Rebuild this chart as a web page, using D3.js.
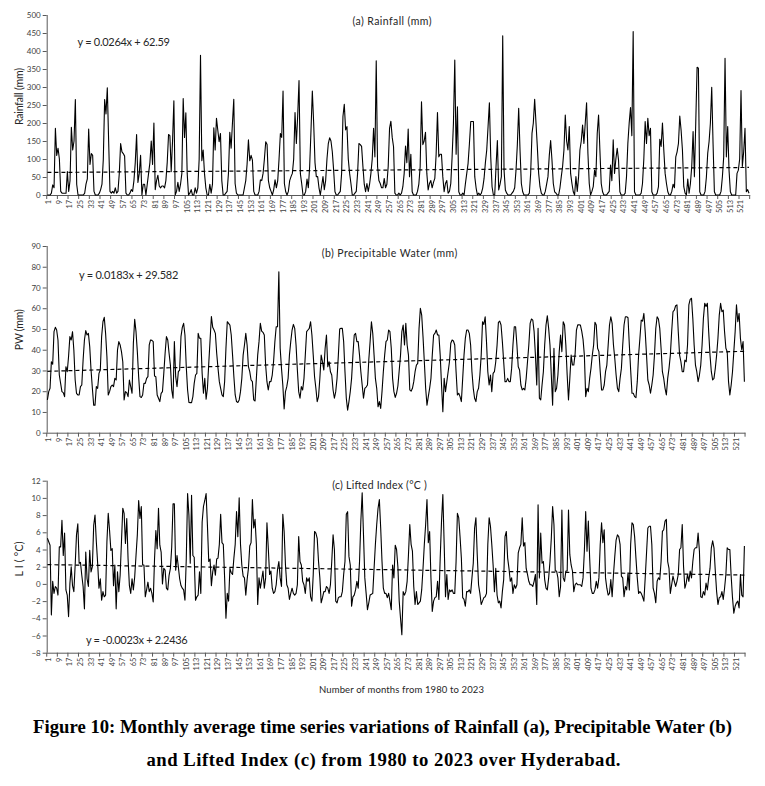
<!DOCTYPE html>
<html><head><meta charset="utf-8">
<script src="https://cdn.jsdelivr.net/npm/d3@7/dist/d3.min.js"></script>
<style>
body{margin:0;background:#fff}
svg{display:block}
.lab{font-family:Lato,'Open Sans',sans-serif;fill:#404040}
.cap{font-family:'Liberation Serif','Times New Roman',serif;font-weight:bold;fill:#000}
</style>
</head><body>
<svg id="chart" width="765" height="786"></svg>
<script>
// ---------- DATA (monthly, Jan 1980 .. Dec 2023, 528 months) ----------
const rainfall = [0,
0,0,5,28,20,185,110,130,100,10,5,5,
5,5,65,10,40,188,125,150,265,30,0,0,
0,0,0,5,30,45,183,85,115,110,10,0,
0,0,5,15,30,100,265,225,298,150,10,5,
10,5,20,5,10,60,143,120,115,108,5,0,
0,5,15,10,40,90,168,35,60,110,0,30,
30,0,30,60,90,150,85,200,15,40,55,25,
20,25,25,20,40,90,168,165,65,150,262,0,
10,35,10,30,60,268,160,228,60,0,5,15,
0,0,20,5,20,100,388,95,125,60,20,0,
0,30,5,30,187,125,213,180,148,171,40,0,
0,5,10,60,174,130,200,266,32,5,0,0,
0,0,0,20,40,86,153,95,110,97,10,0,
0,0,10,42,40,60,100,148,140,40,20,10,
0,15,42,20,40,100,171,160,289,32,9,0,
10,40,51,60,100,229,143,220,318,60,32,0,
0,10,44,20,80,180,289,200,90,51,51,20,
0,25,51,15,40,100,143,159,150,120,69,9,
0,0,5,10,60,218,252,181,190,100,60,32,
0,0,5,10,60,143,140,135,79,30,9,32,
10,30,60,100,185,106,373,79,40,32,20,20,
46,20,30,80,185,205,160,134,5,0,0,5,
0,5,23,60,136,90,183,51,113,9,0,0,
0,10,30,79,259,140,150,174,60,14,32,40,
20,35,46,113,229,106,113,113,51,9,32,40,
5,10,32,106,200,375,113,245,9,0,0,5,
0,32,60,88,143,204,204,204,51,20,0,5,
0,5,20,46,90,125,190,256,106,23,0,0,
80,151,14,30,51,442,69,14,5,0,0,0,
5,10,20,69,140,241,125,32,9,0,0,0,
0,5,60,171,200,266,200,134,60,23,5,0,
0,10,30,51,110,151,97,32,9,5,0,0,
20,51,80,125,222,150,125,190,60,32,9,0,
51,10,51,125,150,194,143,200,256,116,32,0,
10,23,69,51,171,222,125,32,9,0,0,0,
5,10,83,40,153,60,100,130,97,9,0,0,
0,5,51,143,200,243,165,454,9,0,0,0,
0,5,32,100,204,143,213,165,185,9,0,0,
0,5,23,155,135,200,125,60,32,9,0,0,
10,30,20,106,120,143,219,180,125,23,5,0,
44,5,32,80,176,51,200,355,352,9,0,0,
0,10,50,116,148,200,299,143,9,0,0,0,
0,10,50,106,380,106,190,69,9,0,0,0,
0,60,69,100,290,79,120,185,9,15,5];

const precipitableWater = [
15.8,19.8,21.4,34.2,33,48.7,50.8,49.5,44.7,27.8,23.8,19.8,
19.3,17.4,31.8,29.4,36.7,46.3,44.7,48.7,39.9,25.4,19,18.2,
18.2,22.2,23,35,44.7,49.2,47.1,47.9,41.5,30.2,21.4,13.3,
13.3,22.2,21.4,28.6,30.2,46.3,53.5,55.6,47.9,36.7,18.2,19.8,
22.2,23,22.2,26.2,25.4,39.9,43.9,42.3,39.1,34.2,15.8,19.8,
19.3,17.4,25.4,22.2,19,43.1,54.7,48.7,39.1,27,17.4,17,
18.2,23.8,23.8,26.2,27,42.3,44.7,44.5,43.9,27.3,27,18.2,16.6,
15,19,19.8,28.6,38.3,46.3,44.7,38.3,32.6,20.6,16.6,43.9,
27,22.2,29.4,30.2,46.3,50.8,52.7,47.1,31.8,20.6,14.6,14.5,
14.5,17.4,23.8,27.8,28.6,47.9,45.5,45.5,28.6,19,26.2,16.1,
21.4,33.4,44.7,56,50.8,49.5,47.9,38.3,31,24.6,21.4,18.2,
17.4,24.6,40.7,53.5,52.7,51.9,47.1,37.4,27,18.2,15,14.6,
15.8,19.8,26.2,37.4,42.3,47.9,42.3,31.8,29.4,25.4,24.6,15.8,
15.3,26.2,37.4,43.9,52.7,49,48.4,47.1,32.6,24.6,20.6,24.6,
24.6,27.8,34.2,43.9,51.1,51.1,77.6,40.7,31,23,11.4,19.8,
22.2,26.2,37.4,43.9,49.5,52.2,50.3,42.3,30.2,19.8,16.6,22.2,
20.6,26.2,37.4,48.7,49.5,50.3,53.5,47.1,37.4,27,21.4,15,
17.4,26.2,37.4,34.2,30.2,40.7,47.1,31.8,34.2,29.4,27.8,20.6,
16.6,19.8,26.2,37.4,50,50.3,50.3,43.9,29.4,16.6,10.9,15,
19.8,26.2,37.4,47.1,47.9,43.9,43.9,37.4,29.4,23,16.6,21.4,22,
23,35,43.9,53.5,47.9,37.4,26.2,21.4,12.5,15,11.7,19.8,
29.4,37.4,43.9,44.7,49.5,48.7,40.7,26.2,19.8,17,19,22.5,
30,37.4,48.7,51.9,42.3,52.7,42.3,37.4,20.6,20,21.4,24.6,
29.4,32.6,33.4,50.3,60,56.7,46.3,34.2,21.4,13.3,17.4,21.4,
26.2,37.4,47.1,47.9,49.5,47.1,47.1,37.4,23,10.1,26.2,19.8,
24.6,29.4,34.2,43.1,44.7,44.2,42.3,29.4,18.2,19,17.4,15,
26.2,37.4,45.5,49.5,49.5,47.9,42.3,29.4,21.4,16.6,15,19.8,
21.4,27.8,37.4,53.5,52.2,55.9,43.9,29.4,23,27.8,19.8,28.6,
29.4,34.2,42.3,53.2,53.8,51.9,43.9,34.2,24.6,24.6,26.2,24.6,
24.6,31,42.3,51.1,51.1,42.3,31.8,30.2,23,20.6,21.4,20.6,
26.2,34.2,42.3,52.7,54.8,54.3,48.7,37.4,23,50.3,16.6,15.8,
23,29.4,42.3,51.9,56.4,50.3,42.3,27.8,13.3,40.7,19.8,21.4,
27.8,39.1,47.1,39.1,53.5,51.9,42.3,27.8,15.8,26.2,37.4,32.6,
32.6,38,49.5,52,52,51.9,49,45,37.4,17.4,21.4,19.8,26.2,
31,37.4,42.3,53.2,51.9,40.7,39.1,29.4,20.6,20.6,23,29.4,
32.6,42.3,51.9,55.9,52.7,42.3,35.8,27.8,21.4,19.8,26.2,31,
42.3,51.9,55.9,55.9,55.4,42.3,30.2,19,19,17.4,16.9,24.6,
37.4,45.5,54.3,53.8,57.5,48.7,37.4,25.4,23,19,23,27.8,
37.4,50.3,55.9,54.8,50.3,40.7,29.4,26.2,21.4,18.2,26.2,31,
37.4,48.7,58.3,59.1,61.2,61.6,48.7,37.4,34.2,29.4,29.4,35,
34.2,42.3,61.6,64.3,64.8,55.1,42.3,32.6,29.4,24.6,27.8,32.6,
42.3,55.1,62.4,60.8,62.4,48.7,37.4,29.4,25.4,26.2,31,37.4,
45.5,56.7,62.4,58.3,59.1,48.7,40.7,39.1,24.6,18.2,23,29.4,
39.1,48.7,61.6,53.5,57.5,45.5,40,43.9,24.6];

const liftedIndex = [
5.3,4.9,4.5,-3.6,0.3,-1.1,-0.3,-0.5,-1.3,4.3,4.3,7.4,
3.3,5.9,-0.7,-1.3,-3.8,0,2,-0.2,-0.9,2.2,5.7,7,
2.4,2.5,1,-0.3,-2.9,3.7,0.6,-0.3,3.9,1.4,2,6.8,
8,4.9,2.4,-0.5,0.6,-1.9,-0.9,-1.5,-1.3,4.9,8.2,6.2,
3.9,4.1,-0.2,2.2,-2.9,1.4,-0.9,1,4.9,8.8,8.2,4.7,
7.6,2.9,-0.2,-1.1,0.6,-0.7,0.8,3.3,5.7,9.7,7.6,9,
2.2,2.2,-1.5,-0.7,0.2,-0.9,-0.5,-1.1,-2.1,2.9,6.2,4.1,8.8,
4.5,3.7,0,1.8,1.6,-0.5,-0.7,1,1.8,4.3,9.3,9.3,
1.6,3.3,2,0.6,-0.2,-0.5,-0.7,-1.9,2.9,10.5,8,2.4,
10.3,3.3,3.1,-1.9,-1.5,-1.3,1.4,-1.1,7.2,9,9.7,10.5,
6.8,2.6,2.9,-0.2,1.4,2.2,1,2.9,3,4.6,8.1,4.8,
4.6,0.7,-4,-1.1,-2,1.8,1.3,1.1,3,4.6,8.4,5.5,
10,4.6,2.2,0.9,0.7,-1.3,0.5,1.8,4.4,4.8,9.8,6.5,
7.5,4.6,-2.4,0.7,-0.5,0.5,1.5,-0.5,0.7,7.1,4.2,1.1,
1.5,-0.5,-1.1,-0.9,-0.1,1.7,2.6,0.7,-0.3,8.1,6.1,2.2,
-0.1,-0.5,-1.8,-1.1,-0.5,-1.1,-1.3,-1.1,-0.1,5.5,2.6,2.2,
0.3,-0.1,-1.1,0.7,0.3,0.7,-1.5,-2,1.1,6.1,5.9,5.3,
2.6,0.7,-2.2,-1.6,-0.9,-0.9,-0.3,-0.5,-1.1,-0.1,2.6,5.7,
4,-2,-2.2,-1.6,-1.5,-1.5,-0.9,1.1,2.6,8.1,8.4,3.2,
2.2,-2.6,-1.5,-1.3,-0.7,0.3,-0.5,2.6,7.3,10.6,5.7,0.7,
-1.1,-3,-2.2,-1.3,-1.2,-1.1,1.8,4.6,6.9,8.8,9.8,6.5,2.6,
-0.5,-1.1,-1.1,-1.6,-1.1,-2,-3,2.2,0.7,4.5,4,2,
-2,-4,-5.9,-0.9,-1.3,-0.9,0.3,3.4,6.9,4.6,3.8,-0.3,
-2.4,-0.9,-2.4,-2.2,-2,-0.7,1.8,4.6,6.9,9.8,4.8,6.1,
0.7,-3.2,-2,-1.6,-1.5,0.3,-1.8,3,7.3,10.4,4.6,-1.5,
1.1,-1.8,-0.7,-0.9,-0.7,-1.1,-1.1,2.6,8.2,7.7,5.5,3,
-1.6,-1.8,-2.6,-0.9,-0.9,-0.7,-1.1,0.7,2.4,6.5,7.7,3.4,
-0.1,-1.1,-2.4,-2,-1.6,-1.5,-1.1,4.6,7.7,6.7,4.6,2.2,
-0.9,1.8,-1.3,-2.2,-2,-2.8,-0.9,0.5,5.5,6.1,3,1.8,
0.3,0.7,-1.1,-0.1,-0.5,-0.1,3.6,4.2,4.6,7.7,4.4,4.8,
1.8,1.1,0.3,-0.1,-0.1,-0.3,0.3,1.1,-2.4,9.2,0.7,5.9,
2.4,2.6,0.5,-0.5,-0.7,0.7,2.6,5.3,9,6.9,1.5,1.5,
0.7,-1.5,-0.3,8.6,0.7,0.3,1.5,1.5,8.6,3.4,2.2,1.5,
-0.9,-0.1,0.1,-0.1,-0.1,-0.1,-0.3,0.7,3.8,8.4,3.8,7.3,3,
-0.5,-1.1,-1.1,-0.7,0.3,-0.5,0.7,4.6,7.1,4.8,6.3,0.7,
-0.5,-1.3,-1.1,0.5,-1.5,1.1,3.2,5.1,5.7,5.5,4.6,0.9,
0.7,-1.5,-0.3,-0.7,1.3,-0.7,4.6,7.1,6.9,5.5,3,0.7,
-1.1,-0.9,-1.1,-1.5,-2,0.7,3.6,6.5,6.7,6.7,4.6,-0.5,
-1.1,-2.2,0.3,0.7,0.5,2.6,6.1,6.3,7.3,7.5,2.6,1.8,
-1.1,-0.1,0.9,0.3,-0.3,0.3,1.1,4,4.2,6.9,2,-0.5,
0.1,1.1,0.3,1.5,0.7,2.6,4,4.2,4.2,5.9,3.8,-1.5,
-1.6,-0.9,-1.3,0.1,-0.7,0.7,1.8,4.2,5,4.2,1.5,-0.9,
-2.4,-1.6,-1.5,-0.9,-1.8,-0.5,1.1,4.2,4,4,0.9,-1.6,
-3.4,-2.6,-2.2,-2,-2.8,1.1,-1.3,-1.5,4.4];

// Linear trend lines shown on the chart (slope, intercept)
const trendSlopes = [0.0264, 0.0183, -0.0023];
const trendIntercepts = [62.59, 29.582, 2.2436];
const trendLabels = ["y = 0.0264x + 62.59", "y = 0.0183x + 29.582", "y = -0.0023x + 2.2436"];

const panelTitles = ["(a) Rainfall (mm)", "(b) Precipitable Water (mm)", "(c) Lifted Index (\u00B0C )"];
const yAxisTitles = ["Rainfall (mm)", "PW (mm)", "L I  ( \u00B0C)"];
const yTickValues = [d3.range(0, 501, 50), d3.range(0, 91, 10), d3.range(-8, 13, 2)];
const nMonths = 528;
const monthCategories = d3.range(1, nMonths + 1);
const xTickLabels = monthCategories.filter(m => (m - 1) % 8 === 0);
const xAxisTitle = "Number of months from 1980 to 2023";
const captionLines = [
  "Figure 10: Monthly average time series variations of Rainfall (a), Precipitable Water (b)",
  "and Lifted Index (c) from 1980 to 2023 over Hyderabad."
];

// ---------- LAYOUT ----------
const series = [rainfall, precipitableWater, liftedIndex];
const layout = [
  {yDom:[0,500], yRng:[195,15],     xRng:[47.4,749.0], axisEnd:750.2,
   tX:392, tY:25, tLen:79, eX:77.5, eY:45.5, eLen:92.5, ytY:96.5, ytLen:57},
  {yDom:[0,90],  yRng:[432.7,246],  xRng:[47.4,744.4], axisEnd:745.4,
   tX:389.5, tY:257, tLen:135.6, eX:79, eY:278.5, eLen:99.3, ytY:329.7, ytLen:41},
  {yDom:[-8,12], yRng:[652.7,480.7],xRng:[47.4,744.4], axisEnd:745.4,
   tX:379.5, tY:488.5, tLen:94.4, eX:86, eY:643.5, eLen:101.7, ytY:559, ytLen:35}
];
const axisX = 46.7;
const axisColor = "#595959";

const svg = d3.select("#chart");
svg.append("rect").attr("width",765).attr("height",786).attr("fill","#fff");

series.forEach((vals, p) => {
  const L = layout[p];
  const g = svg.append("g");
  const x = d3.scaleLinear().domain([1, nMonths]).range(L.xRng);
  const y = d3.scaleLinear().domain(L.yDom).range(L.yRng);

  // y axis
  const ya = g.append("g").attr("transform",`translate(${axisX},0)`)
    .call(d3.axisLeft(y).tickValues(yTickValues[p]).tickSize(4).tickSizeOuter(0).tickPadding(2));
  ya.select(".domain").attr("stroke",axisColor).attr("d",`M0.5,${L.yRng[1]}V${L.yRng[0]}`);
  ya.selectAll(".tick line").attr("stroke",axisColor);
  ya.selectAll(".tick text").attr("class","lab").style("font-size","8px")
    .attr("font-family",null).attr("fill",null);
  ya.attr("font-family",null).attr("font-size",null);

  // x axis line + tick marks between categories
  const xBottom = L.yRng[0];
  g.append("line").attr("x1",axisX).attr("x2",L.axisEnd).attr("y1",xBottom+0.5).attr("y2",xBottom+0.5)
    .attr("stroke",axisColor);
  const tickPos = d3.range(0.5, nMonths + 1, 8);
  g.selectAll(".xt").data(tickPos).join("line")
    .attr("x1",d=>Math.min(x(d),L.axisEnd)).attr("x2",d=>Math.min(x(d),L.axisEnd))
    .attr("y1",xBottom).attr("y2",xBottom+4).attr("stroke",axisColor);
  // rotated x labels
  g.selectAll(".xl").data(xTickLabels).join("text").attr("class","lab")
    .attr("transform",d=>`translate(${x(d)+1.2},${xBottom+5}) rotate(-90)`)
    .attr("text-anchor","end").attr("dy","0.35em").style("font-size","7.4px")
    .text(d=>d);

  // data line
  const line = d3.line().x((d,i)=>x(monthCategories[i])).y(d=>y(d));
  g.append("path").datum(vals).attr("d",line).attr("fill","none")
    .attr("stroke","#000").attr("stroke-width",1.1).attr("stroke-linejoin","round");

  // trend line
  const tl = d3.line().x(m=>x(m)).y(m=>y(trendSlopes[p]*m + trendIntercepts[p]));
  g.append("path").datum([1, nMonths]).attr("d",tl).attr("fill","none")
    .attr("stroke","#000").attr("stroke-width",1.2).attr("stroke-dasharray","4,3");

  // texts
  g.append("text").attr("class","lab").attr("x",L.tX).attr("y",L.tY).attr("text-anchor","middle")
    .style("font-size","10.5px").style("fill","#262626").attr("textLength",L.tLen).text(panelTitles[p]);
  g.append("text").attr("class","lab").attr("x",L.eX).attr("y",L.eY)
    .style("font-size","11px").style("fill","#262626").attr("textLength",L.eLen).text(trendLabels[p]);
  g.append("text").attr("class","lab")
    .attr("transform",`translate(19.5,${L.ytY}) rotate(-90)`).attr("text-anchor","middle").attr("dy","0.35em")
    .style("font-size","10.5px").style("fill","#262626").attr("textLength",L.ytLen).text(yAxisTitles[p]);
});

svg.append("text").attr("class","lab").attr("x",401.5).attr("y",693).attr("text-anchor","middle")
  .style("font-size","9.5px").style("fill","#262626").attr("textLength",165).text(xAxisTitle);

// caption (line 1 justified to the column width, line 2 centred)
const c1 = svg.append("text").attr("class","cap").attr("x",382.5).attr("y",733).attr("text-anchor","middle")
  .style("font-size","16px").text(captionLines[0]);
const w1 = c1.node().getComputedTextLength();
const fs = 16 * 699 / w1;
c1.style("font-size", fs + "px");
svg.append("text").attr("class","cap").attr("x",383.5).attr("y",766).attr("text-anchor","middle")
  .style("font-size", fs + "px").attr("textLength",474).text(captionLines[1]);
</script>
</body></html>
